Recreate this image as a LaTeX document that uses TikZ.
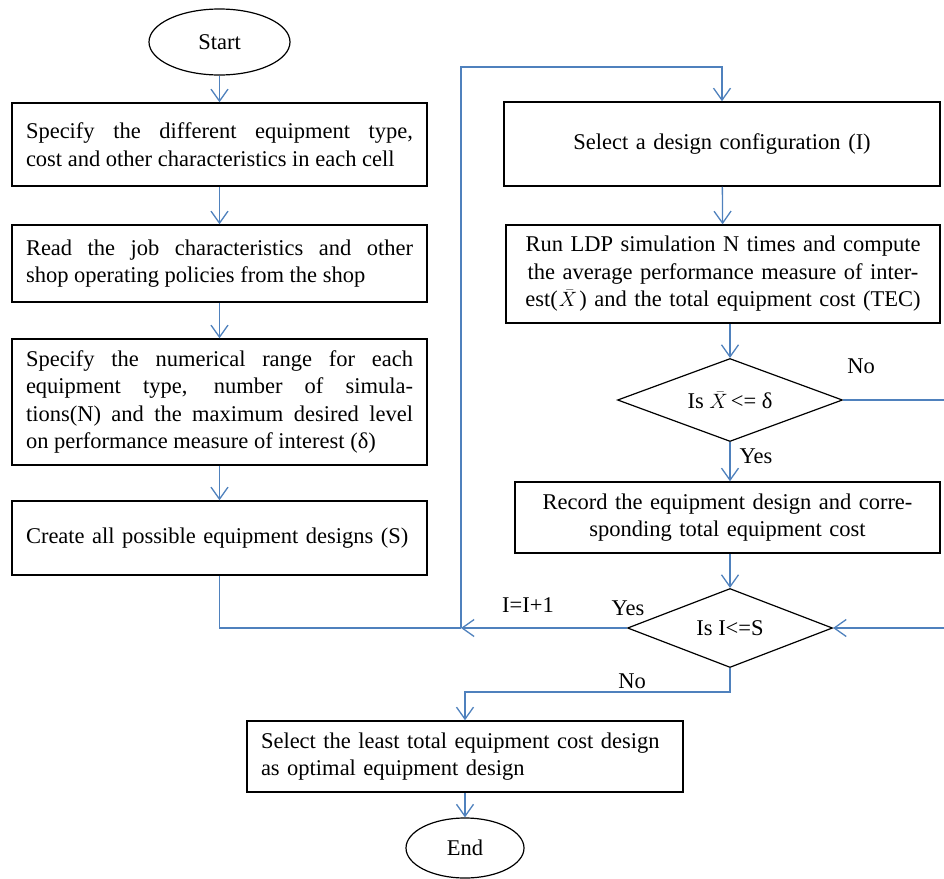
\documentclass[tikz,border=0pt]{standalone}
\usepackage{fontspec}
\setmainfont{Liberation Serif}
\usetikzlibrary{shapes}
\usetikzlibrary{arrows.meta}
\definecolor{flowblue}{RGB}{79,129,189}
\tikzstyle{terminal}=[ellipse,draw=black,line width=1.2pt,inner sep=0pt]
\tikzstyle{process}=[rectangle,draw=black,line width=1.5pt,inner xsep=14pt,inner ysep=0pt]
\tikzstyle{decision}=[diamond,draw=black,line width=1.2pt,inner sep=0pt,aspect=2.7]
\tikzstyle{flow}=[draw=flowblue,line width=1.3pt]
\tikzstyle{arrow}=[->,>={Straight Barb[length=12pt,width=17pt]}]
\tikzstyle{lbl}=[inner sep=0pt]
\begin{document}
\begin{tikzpicture}[x=1pt,y=-1pt,font=\fontsize{22.5}{27.5}\selectfont]
      \useasboundingbox (0,0) rectangle (944,878);
      % left column
      \node[process,text width=387pt,minimum height=83pt,align=justify] at (219.5,144.5) (spec) {Specify the different equipment type,\linebreak cost and other characteristics in each cell\par\vspace{10pt}};
      \node[terminal,minimum width=141pt,minimum height=66pt] at (219.5,42) (start) {Start};
      \node[process,text width=387pt,minimum height=77pt,align=justify] at (219.5,263.5) (read) {Read the job characteristics and other\linebreak shop operating policies from the shop};
      \node[process,text width=387pt,minimum height=126pt,align=justify] at (219.5,402) (range) {Specify the numerical range for each\linebreak equipment type, number of simula-\linebreak tions(N) and the maximum desired level\linebreak on performance measure of interest (δ)};
      \node[process,text width=387pt,minimum height=74pt,align=left] at (219.5,538) (create) {Create all possible equipment designs (S)};
      % right column
      \node[process,text width=408pt,minimum height=84pt,align=center] at (722,144) (select) {Select a design configuration (I)};
      \node[process,text width=406pt,minimum height=98pt,align=center] at (723,274) (run) {Run LDP simulation N times and compute\\the average performance measure of inter-\\est(\kern1pt$\bar{X}$\kern2pt) and the total equipment cost (TEC)};
      \node[decision,minimum width=225pt,minimum height=83pt] at (730,400) (check) {Is $\bar{X}$\kern3pt<= δ};
      \node[process,text width=397pt,minimum height=71pt,align=center] at (727.5,517.5) (record) {Record the equipment design and corre-\\sponding total equipment cost};
      \node[decision,minimum width=205pt,minimum height=79pt] at (730,628) (more) {Is I<=S};
      % bottom
      \node[process,text width=408pt,minimum height=71pt,align=left] at (465,756.5) (least) {Select the least total equipment cost design\\as optimal equipment design};
      \node[terminal,minimum width=118pt,minimum height=60pt] at (465,848) (end) {End};
      % labels
      \node[lbl] at (861,366) (nocheck) {No};
      \node[lbl] at (756,456) (yescheck) {Yes};
      \node[lbl] at (528,605) (incr) {I=I+1};
      \node[lbl] at (628,608) (yesmore) {Yes};
      \node[lbl] at (632,681) (nomore) {No};
      \coordinate (join) at (461,628);
      \coordinate (top) at (461,67);
      \coordinate (noout) at (944,400);
      \coordinate (back) at (944,628);
      % connectors
      \draw[flow,arrow] (start) -- (spec);
      \draw[flow,arrow] (spec) -- (read);
      \draw[flow,arrow] (read) -- (range);
      \draw[flow,arrow] (range) -- (create);
      \draw[flow] (create.south) |- (join);
      \draw[flow,arrow] (more.west) -- (join);
      \draw[flow,arrow] (join) -- (top) -| (select.north);
      \draw[flow,arrow] (select) -- (run);
      \draw[flow,arrow] (run.south -| check.north) -- (check.north);
      \draw[flow] (check.east) -- (noout);
      \draw[flow,arrow] (check.south) -- (check.south |- record.north);
      \draw[flow,arrow] (record.south -| more.north) -- (more.north);
      \draw[flow,arrow] (back) -- (more.east);
      \draw[flow,arrow] (more.south) -- ++(0,24) -| (least.north);
      \draw[flow,arrow] (least) -- (end);
    \end{tikzpicture}
\end{document}
